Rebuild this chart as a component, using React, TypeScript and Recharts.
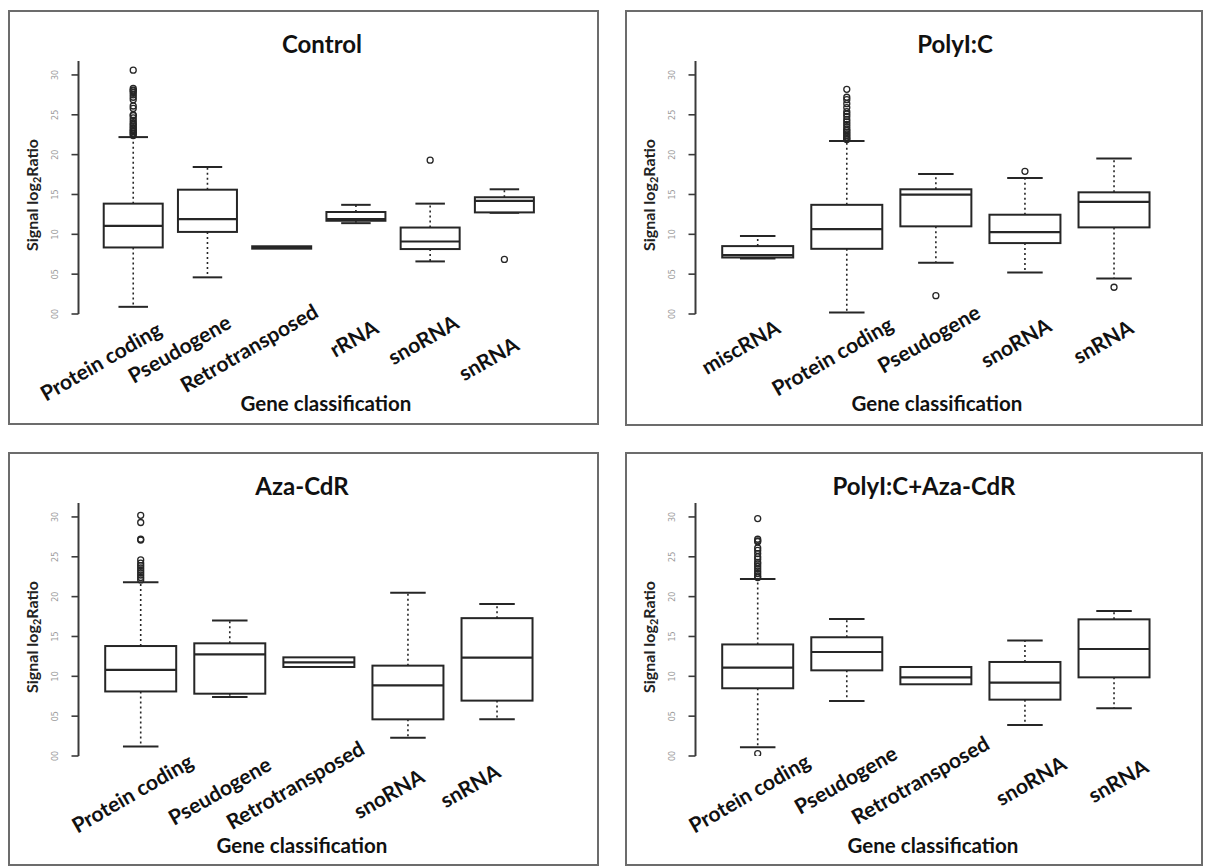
import { Bar, ComposedChart, XAxis, YAxis } from 'recharts'

// values (signal log2 ratio)
const controlNames = ['Protein coding', 'Pseudogene', 'Retrotransposed', 'rRNA', 'snoRNA', 'snRNA']
const controlLow = [0.9, 4.6, 8.2, 11.4, 6.6, 12.7]
const controlQ1 = [8.35, 10.3, 8.2, 11.7, 8.15, 12.75]
const controlMedian = [11.05, 11.9, 8.35, 11.9, 9.1, 14.2]
const controlQ3 = [13.85, 15.6, 8.5, 12.8, 10.85, 14.65]
const controlHigh = [22.2, 18.45, 8.5, 13.7, 13.85, 15.65]
const controlOutliers = [
  [30.6, 28.3, 28.1, 28.0, 27.8, 27.5, 27.2, 26.9, 26.1, 25.8, 25.0, 24.9, 24.6, 24.3, 24.0, 23.8, 23.6, 23.4, 23.2, 23.0, 22.9, 22.7, 22.6, 22.4],
  [],
  [],
  [],
  [19.3],
  [6.85],
]

const polyNames = ['miscRNA', 'Protein coding', 'Pseudogene', 'snoRNA', 'snRNA']
const polyLow = [6.97, 0.2, 6.42, 5.2, 4.45]
const polyQ1 = [7.09, 8.18, 11.0, 8.9, 10.87]
const polyMedian = [7.4, 10.66, 14.98, 10.28, 14.06]
const polyQ3 = [8.52, 13.7, 15.65, 12.46, 15.27]
const polyHigh = [9.78, 21.7, 17.58, 17.08, 19.5]
const polyOutliers = [
  [],
  [28.2, 27.2, 26.9, 26.4, 25.9, 25.4, 25.1, 24.8, 24.4, 24.1, 23.8, 23.5, 23.2, 23.0, 22.8, 22.6, 22.4, 22.2, 22.0, 21.9],
  [2.3],
  [17.9],
  [3.36],
]

const azaNames = ['Protein coding', 'Pseudogene', 'Retrotransposed', 'snoRNA', 'snRNA']
const azaLow = [1.2, 7.4, 11.17, 2.3, 4.6]
const azaQ1 = [8.1, 7.82, 11.17, 4.6, 6.95]
const azaMedian = [10.8, 12.76, 11.76, 8.87, 12.34]
const azaQ3 = [13.8, 14.14, 12.38, 11.34, 17.3]
const azaHigh = [21.8, 17.0, 12.38, 20.5, 19.08]
const azaOutliers = [
  [30.2, 29.3, 27.2, 27.1, 24.6, 24.2, 23.9, 23.6, 23.3, 23.0, 22.7, 22.4, 22.1],
  [],
  [],
  [],
  [],
]

const comboNames = ['Protein coding', 'Pseudogene', 'Retrotransposed', 'snoRNA', 'snRNA']
const comboLow = [1.1, 6.9, 9.0, 3.9, 6.0]
const comboQ1 = [8.5, 10.75, 9.0, 7.07, 9.87]
const comboMedian = [11.1, 13.05, 9.87, 9.2, 13.43]
const comboQ3 = [14.0, 14.9, 11.17, 11.8, 17.15]
const comboHigh = [22.2, 17.2, 11.17, 14.5, 18.2]
const comboOutliers = [
  [29.8, 27.2, 27.0, 26.9, 26.1, 25.8, 25.4, 25.0, 24.7, 24.3, 24.1, 23.8, 23.5, 23.2, 22.9, 22.6, 22.4, 0.3],
  [],
  [],
  [],
  [],
]

const yTicks = [0, 5, 10, 15, 20, 25, 30]

type Row = { name: string; low: number; q1: number; med: number; q3: number; high: number; out: number[] }

function rows(names: string[], low: number[], q1: number[], med: number[], q3: number[], high: number[], out: number[][]): Row[] {
  return names.map((name, i) => ({ name, low: low[i], q1: q1[i], med: med[i], q3: q3[i], high: high[i], out: out[i] }))
}

const span = (d: Row): [number, number] => [Math.min(d.low, ...d.out), Math.max(d.high, ...d.out)]

const INK = '#262626'
const FONT = 'Lato, "Open Sans", sans-serif'

function BoxShape(props: any) {
  const { x, y, width, height, payload } = props
  const d = payload as Row
  const [lo, hi] = span(d)
  const top = Math.min(y, y + height)
  const bottom = Math.max(y, y + height)
  const py = (v: number) => bottom - ((v - lo) / (hi - lo)) * (bottom - top)
  const cx = x + width / 2
  const cap = width / 4
  return (
    <g>
      {d.high > d.q3 && (
        <>
          <line x1={cx} x2={cx} y1={py(d.q3)} y2={py(d.high)} stroke={INK} strokeWidth={1.6} strokeDasharray='2 3' />
          <line x1={cx - cap} x2={cx + cap} y1={py(d.high)} y2={py(d.high)} stroke={INK} strokeWidth={2} />
        </>
      )}
      {d.low < d.q1 && (
        <>
          <line x1={cx} x2={cx} y1={py(d.q1)} y2={py(d.low)} stroke={INK} strokeWidth={1.6} strokeDasharray='2 3' />
          <line x1={cx - cap} x2={cx + cap} y1={py(d.low)} y2={py(d.low)} stroke={INK} strokeWidth={2} />
        </>
      )}
      <rect x={x} y={py(d.q3)} width={width} height={Math.max(py(d.q1) - py(d.q3), 0.5)} fill='#fff' stroke={INK} strokeWidth={2} />
      <line x1={x} x2={x + width} y1={py(d.med)} y2={py(d.med)} stroke={INK} strokeWidth={2.2} />
      {d.out.map((v, i) => (
        <circle key={i} cx={cx} cy={py(v)} r={3} fill='none' stroke={INK} strokeWidth={1.3} />
      ))}
    </g>
  )
}

function YTick({ x, y, payload }: any) {
  return (
    <text x={x} y={y} transform={`rotate(-90 ${x} ${y})`} textAnchor='middle' dominantBaseline='central' fontSize={8} fill='#9a9a9a' fontFamily='"DejaVu Sans", sans-serif'>
      {String(payload.value).padStart(2, '0')}
    </text>
  )
}

// the category labels sit a little unevenly in the original, so each gets its own nudge
function makeXTick(dxs: number[], dys: number[]) {
  return function XTick({ x, y, payload, index }: any) {
    const tx = x + dxs[index]
    const ty = y + dys[index]
    return (
      <text x={tx} y={ty} transform={`rotate(-30 ${tx} ${ty})`} textAnchor='end' fontSize={21} fontWeight='bold' fill='#111' fontFamily={FONT}>
        {payload.value}
      </text>
    )
  }
}

const PLOT_LEFT = 70.5
const PLOT_TOP = 51
const PLOT_W = 481
const PLOT_H = 253
const X_AXIS_H = 30

const panels = [
  {
    title: 'Control',
    data: rows(controlNames, controlLow, controlQ1, controlMedian, controlQ3, controlHigh, controlOutliers),
    left: 8, top: 10, w: 591, h: 415, titleX: 314, xTitleX: 318,
    labelDx: [30, 25, 38, 24, 30, 16], labelDy: [20, 13, 2, 18, 13, 35],
  },
  {
    title: 'PolyI:C',
    data: rows(polyNames, polyLow, polyQ1, polyMedian, polyQ3, polyHigh, polyOutliers),
    left: 625, top: 10, w: 578, h: 416, titleX: 330, xTitleX: 312,
    labelDx: [24, 48, 46, 28, 21], labelDy: [18, 15, 3, 16, 18],
  },
  {
    title: 'Aza-CdR',
    data: rows(azaNames, azaLow, azaQ1, azaMedian, azaQ3, azaHigh, azaOutliers),
    left: 8, top: 452, w: 591, h: 414, titleX: 294, xTitleX: 294,
    labelDx: [54, 43, 47, 18, 5], labelDy: [10, 13, -3, 25, 20],
  },
  {
    title: 'PolyI:C+Aza-CdR',
    data: rows(comboNames, comboLow, comboQ1, comboMedian, comboQ3, comboHigh, comboOutliers),
    left: 625, top: 452, w: 578, h: 414, titleX: 299, xTitleX: 308,
    labelDx: [54, 52, 55, 43, 36], labelDy: [10, 2, -8, 12, 15],
  },
]

function Panel({ p }: { p: (typeof panels)[number] }) {
  return (
    <div style={{ position: 'absolute', left: p.left, top: p.top, width: p.w, height: p.h }}>
      <div style={{ position: 'absolute', inset: 0, border: '2px solid #6c6c6c', boxSizing: 'border-box' }} />
      <div style={{ position: 'absolute', left: 0, top: 0 }}>
        <ComposedChart
          width={p.w}
          height={p.h}
          data={p.data}
          barCategoryGap='10%'
          margin={{ top: PLOT_TOP, left: PLOT_LEFT - 40, right: p.w - PLOT_LEFT - PLOT_W, bottom: p.h - PLOT_TOP - PLOT_H - X_AXIS_H }}
        >
          <XAxis
            dataKey='name'
            interval={0}
            axisLine={false}
            tickLine={false}
            tickSize={0}
            tickMargin={0}
            height={X_AXIS_H}
            padding={{ left: 17.8, right: 17.8 }}
            tick={makeXTick(p.labelDx, p.labelDy)}
          />
          <YAxis
            width={40}
            domain={[0, 31.75]}
            ticks={yTicks}
            allowDataOverflow
            axisLine={{ stroke: '#3a3a3a', strokeWidth: 2 }}
            tickLine={{ stroke: '#3a3a3a', strokeWidth: 1.6 }}
            tickSize={7}
            tickMargin={16}
            tick={<YTick />}
          />
          <Bar dataKey={(d: Row) => span(d)} shape={BoxShape} isAnimationActive={false} />
        </ComposedChart>
      </div>
      <div style={{ position: 'absolute', left: p.titleX, top: 33, transform: 'translate(-50%, -50%)', fontFamily: FONT, fontWeight: 'bold', fontSize: 24, color: '#111', whiteSpace: 'nowrap' }}>
        {p.title}
      </div>
      <div style={{ position: 'absolute', left: 24, top: 185, transform: 'translate(-50%, -50%) rotate(-90deg)', fontFamily: FONT, fontWeight: 'bold', fontSize: 16, color: '#222', whiteSpace: 'nowrap' }}>
        Signal log<sub style={{ fontSize: 11, verticalAlign: '-3px' }}>2</sub>Ratio
      </div>
      <div style={{ position: 'absolute', left: p.xTitleX, top: 393, transform: 'translate(-50%, -50%)', fontFamily: FONT, fontWeight: 'bold', fontSize: 20.5, color: '#111', whiteSpace: 'nowrap' }}>
        Gene classification
      </div>
    </div>
  )
}

export default function App() {
  return (
    <div style={{ position: 'absolute', left: 0, top: 0, width: 1205, height: 867, background: '#fff', overflow: 'hidden' }}>
      {panels.map((p) => (
        <Panel key={p.title} p={p} />
      ))}
    </div>
  )
}
